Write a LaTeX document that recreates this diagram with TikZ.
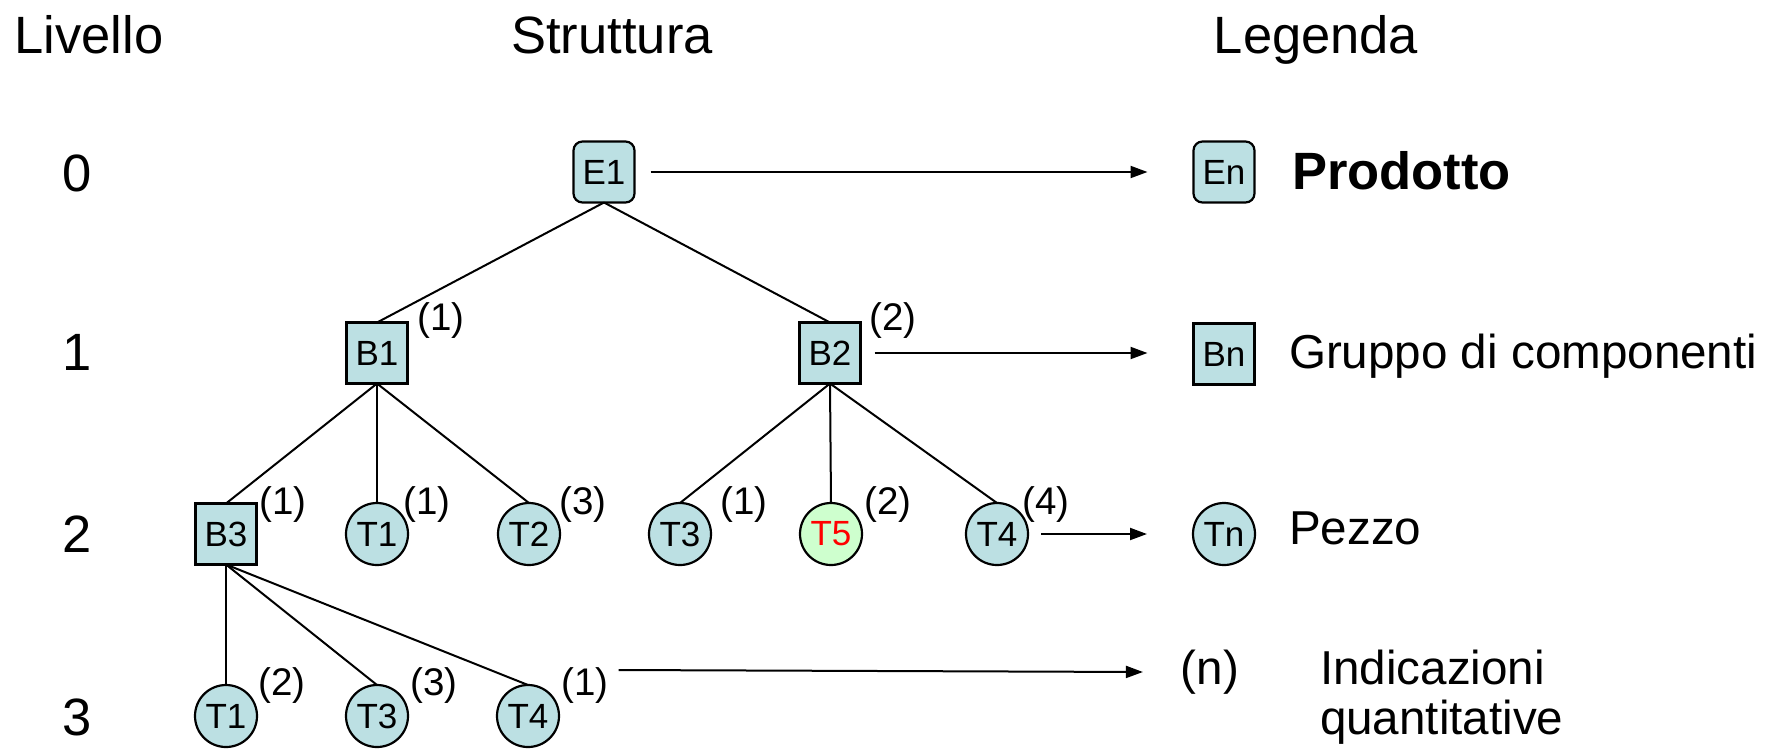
\documentclass[tikz,border=0pt]{standalone}
\usepackage{fontspec}
\setmainfont{Liberation Sans}
\usetikzlibrary{arrows.meta}
\definecolor{nodefill}{RGB}{188,224,227}
\definecolor{greenfill}{RGB}{206,255,206}
\newcommand\myhd{\fontsize{52.5}{60}\selectfont}
\newcommand\mylg{\fontsize{47.6}{52}\selectfont}
\newcommand\mynd{\fontsize{35}{40}\selectfont}
\newcommand\myqt{\fontsize{38.5}{44}\selectfont}
\begin{document}
\begin{tikzpicture}[x=1pt,y=-1pt,
  every node/.style={inner sep=0pt,outer sep=0pt},
  sqbox/.style={draw,fill=nodefill,minimum size=61pt,line width=2.2pt,font=\mynd},
  rsqbox/.style={sqbox,rounded corners=9pt},
  circbox/.style={circle,draw,fill=nodefill,minimum size=62pt,line width=2.2pt,font=\mynd},
  qty/.style={font=\myqt},
  hd/.style={font=\myhd,anchor=base},
  lg/.style={font=\mylg,anchor=base west},
  edge/.style={line width=2pt},
  arr/.style={line width=2pt,-{Triangle[length=17pt,width=12pt]}}]
\useasboundingbox (0,0) rectangle (1775,748);
% headers
\node[hd] (hLiv) at (89,53) {Livello};
\node[hd] (hStr) at (612,53) {Struttura};
\node[hd] (hLeg) at (1316,53) {Legenda};
% levels
\node[hd] (lv0) at (77,191) {0};
\node[hd] (lv1) at (77,370) {1};
\node[hd] (lv2) at (77,552) {2};
\node[hd] (lv3) at (77,735) {3};
% tree nodes
\node[rsqbox] (E1) at (604,172) {E1};
\node[sqbox] (B1) at (377,353) {B1};
\node[sqbox] (B2) at (830,353) {B2};
\node[sqbox] (B3) at (226,534) {B3};
\node[circbox] (T1a) at (377,534) {T1};
\node[circbox] (T2a) at (529,534) {T2};
\node[circbox] (T3a) at (680,534) {T3};
\node[circbox,fill=greenfill,text=red] (T5a) at (831,534) {T5};
\node[circbox] (T4a) at (997,534) {T4};
\node[circbox] (T1b) at (226,716) {T1};
\node[circbox] (T3b) at (377,716) {T3};
\node[circbox] (T4b) at (528,716) {T4};
% edges
\draw[edge] (E1.south) -- (B1.north);
\draw[edge] (E1.south) -- (B2.north);
\draw[edge] (B1.south) -- (B3.north);
\draw[edge] (B1.south) -- (T1a.north);
\draw[edge] (B1.south) -- (T2a.north);
\draw[edge] (B2.south) -- (T3a.north);
\draw[edge] (B2.south) -- (T5a.north);
\draw[edge] (B2.south) -- (T4a.north);
\draw[edge] (B3.south) -- (T1b.north);
\draw[edge] (B3.south) -- (T3b.north);
\draw[edge] (B3.south) -- (T4b.north);
% quantities
\node[qty] (qB1) at (441,321) {(1)};
\node[qty] (qB2) at (893,321) {(2)};
\node[qty] (qB3) at (283,505) {(1)};
\node[qty] (qT1a) at (427,505) {(1)};
\node[qty] (qT2a) at (583,505) {(3)};
\node[qty] (qT3a) at (744,505) {(1)};
\node[qty] (qT5a) at (888,505) {(2)};
\node[qty] (qT4a) at (1046,505) {(4)};
\node[qty] (qT1b) at (282,686) {(2)};
\node[qty] (qT3b) at (434,686) {(3)};
\node[qty] (qT4b) at (585,686) {(1)};
% legend
\node[rsqbox] (En) at (1224,172) {En};
\node[sqbox] (Bn) at (1224,354) {Bn};
\node[circbox] (Tn) at (1224,534) {Tn};
\node[font=\mylg] (qn) at (1210,672) {(n)};
\node[font=\fontsize{52.5}{58}\selectfont\bfseries,anchor=base west] (tP) at (1292,189) {Prodotto};
\node[lg] (tG) at (1289,368) {Gruppo di componenti};
\node[lg] (tPz) at (1289,544) {Pezzo};
\node[lg] (tI1) at (1320,684) {Indicazioni};
\node[lg] (tI2) at (1320,734) {quantitative};
% arrows
\draw[arr] ([xshift=16pt]E1.east) -- ([xshift=-46pt]En.west);
\draw[arr] ([xshift=14pt]B2.east) -- ([xshift=-46pt]Bn.west |- B2.east);
\draw[arr] ([xshift=13pt]T4a.east) -- ([xshift=-46pt]Tn.west);
\draw[arr] ([xshift=10pt,yshift=16pt]qT4b.east) -- ([xshift=-38pt]qn.west);
\end{tikzpicture}
\end{document}
